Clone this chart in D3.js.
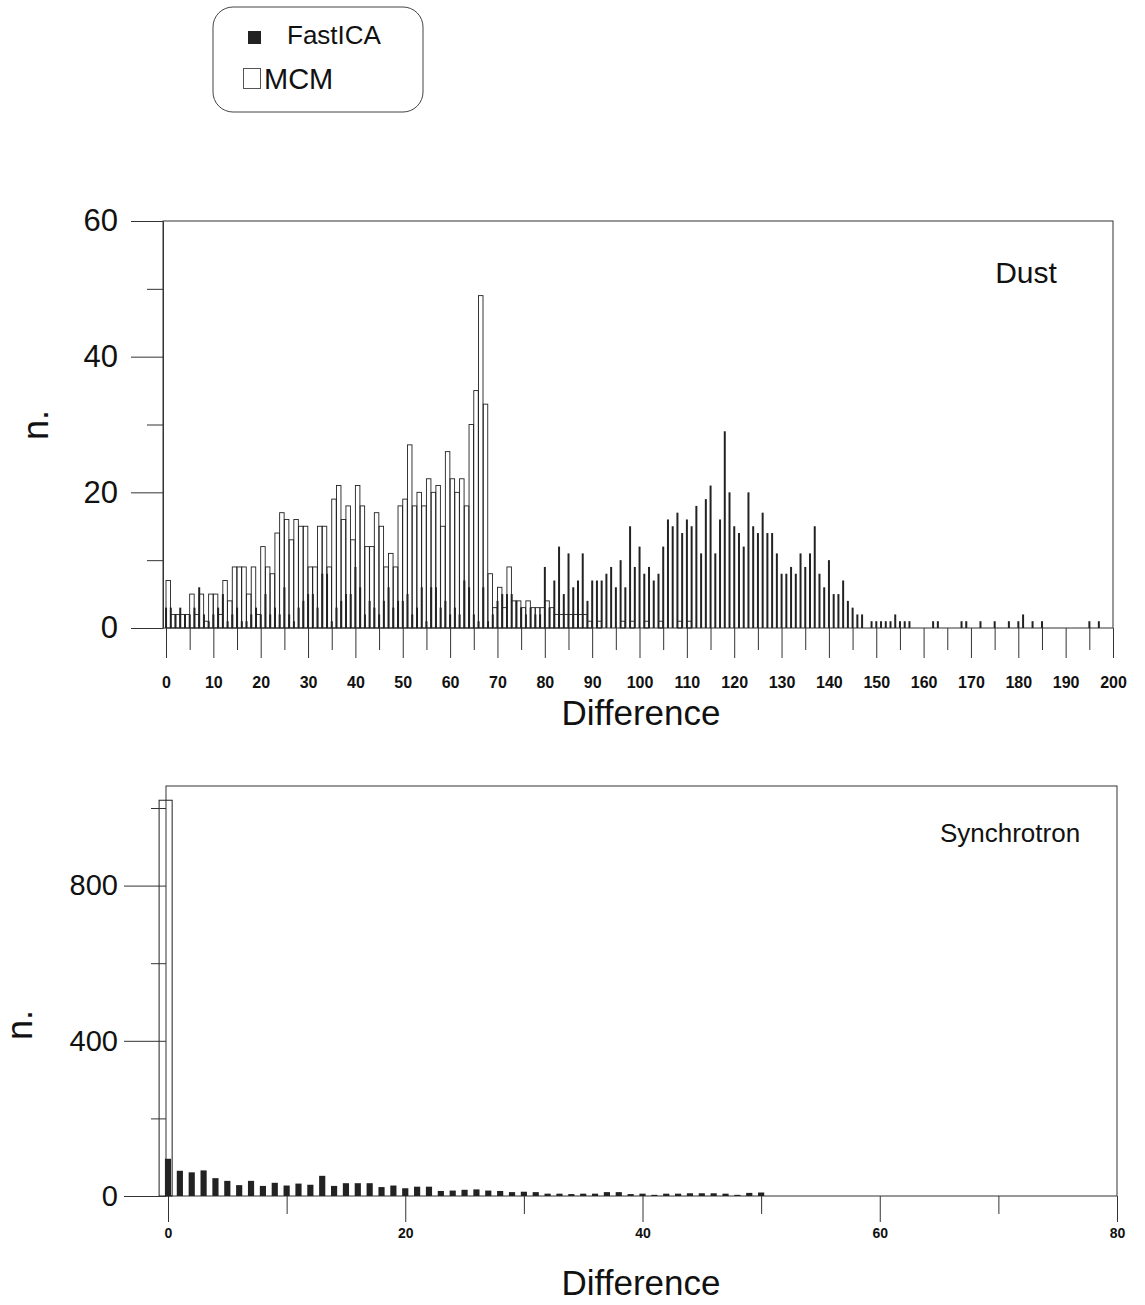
<!DOCTYPE html>
<html lang="en">
<head>
<meta charset="UTF-8">
<title>Dust / Synchrotron differences</title>
<script src="https://cdn.jsdelivr.net/npm/d3@7"></script>
<style>
  body { margin: 0; background: #fff; }
  text { font-family: "Liberation Sans", Arial, Helvetica, sans-serif; fill: #111; }
  .axis path, .axis line { stroke: #333; stroke-width: 1; }
  .axis text { fill: #111; }
</style>
</head>
<body>
<svg width="1145" height="1305"></svg>
<script>
// Dust panel: number of pixels per difference bin 0..199
var dustFastICA = [
  3,3,2,3,2,2,3,6,2,1,  2,3,5,1,2,3,1,1,2,3,  2,5,2,3,2,6,2,1,3,4,
  5,5,3,8,8,1,3,4,5,5,  9,6,2,4,3,2,4,6,3,4,  4,5,2,3,6,1,6,6,3,4,
  2,3,2,7,6,2,1,6,1,2,  4,5,5,5,4,3,2,3,2,2,  9,3,7,12,5,11,6,7,11,4,
  7,7,7,8,9,6,10,6,15,9, 12,8,9,7,8,12,16,15,17,14, 16,15,18,11,19,21,11,16,29,20,
  15,14,12,20,15,14,17,14,14,11, 8,8,9,8,11,9,11,15,8,6, 10,5,5,7,4,3,2,2,0,1,
  1,1,1,1,2,1,1,1,0,0,  0,0,1,1,0,0,0,0,1,1,  0,0,1,0,0,1,0,0,1,0,
  1,2,0,1,0,1,0,0,0,0,  0,0,0,0,0,1,0,1,0,0
];
var dustMCM = [
  7,2,2,2,2,5,2,5,1,5,  5,2,7,4,9,9,9,5,9,2,  12,9,8,14,17,16,13,16,15,15,
  9,9,15,15,9,19,21,16,18,13,  21,18,12,12,17,15,9,11,9,18,  19,27,18,20,18,22,20,21,15,26,
  22,20,22,18,30,35,49,33,8,3,  6,3,9,4,4,3,4,3,3,3,  4,3,2,2,2,2,2,2,2,1,
  0,1,0,0,0,0,1,0,1,0,  0,1,0,0,1,0,0,0,1,0,  1
];

// Synchrotron panel: difference bins 0..50
var syncFastICA = [
  96,65,61,66,46,39,28,39,26,34,  27,32,29,52,26,33,33,33,23,27,
  20,24,24,13,14,16,17,14,13,10,  11,10,6,6,5,6,6,10,10,5,
  6,3,6,6,7,7,7,6,3,8,  9
];
var syncMCM = [1020];

var dustYTicks = [0, 20, 40, 60], dustYMinor = [10, 30, 50];
var dustXTicks = [0,10,20,30,40,50,60,70,80,90,100,110,120,130,140,150,160,170,180,190,200];
var dustXMinor = [5,15,25,35,45,55,65,75,85,95,105,115,125,135,145,155,165,175,185,195];
var syncYTicks = [0, 400, 800], syncYMinor = [200, 600, 1000];
var syncXTicks = [0, 20, 40, 60, 80], syncXMinor = [10, 30, 50, 70];

var svg = d3.select("svg");
var ink = "#222";

function toBins(values) {
  return values.map(function (v, i) { return { k: i, v: v }; })
               .filter(function (d) { return d.v > 0; });
}

// ---------- Dust panel ----------
var xTop = d3.scaleLinear().domain([0, 200]).range([166, 1113]);
var yTop = d3.scaleLinear().domain([0, 60]).range([628, 221]);

svg.append("rect")
  .attr("x", 163).attr("y", yTop(60))
  .attr("width", xTop(200) - 163).attr("height", yTop(0) - yTop(60))
  .attr("fill", "none").attr("stroke", "#333");

// MCM hollow bars
svg.append("g").selectAll("rect")
  .data(toBins(dustMCM))
  .enter().append("rect")
  .attr("x", function (d) { return xTop(d.k); })
  .attr("y", function (d) { return yTop(d.v); })
  .attr("width", function (d) { return xTop(d.k + 0.95) - xTop(d.k); })
  .attr("height", function (d) { return yTop(0) - yTop(d.v); })
  .attr("fill", "none").attr("stroke", ink).attr("stroke-width", 0.9);

// FastICA filled bars
svg.append("g").selectAll("rect")
  .data(toBins(dustFastICA))
  .enter().append("rect")
  .attr("x", function (d) { return xTop(d.k - 0.2); })
  .attr("y", function (d) { return yTop(d.v); })
  .attr("width", function (d) { return xTop(d.k + 0.22) - xTop(d.k - 0.2); })
  .attr("height", function (d) { return yTop(0) - yTop(d.v); })
  .attr("fill", ink);

// y axis
svg.append("g").attr("class", "axis").attr("transform", "translate(163,0)")
  .call(d3.axisLeft(yTop).tickValues(dustYTicks).tickSize(32).tickSizeOuter(0).tickPadding(13))
  .call(function (g) { g.selectAll("text").style("font-size", "31px"); });
svg.append("g").attr("class", "axis").attr("transform", "translate(163,0)")
  .call(d3.axisLeft(yTop).tickValues(dustYMinor).tickSize(16).tickSizeOuter(0).tickFormat(""))
  .call(function (g) { g.select(".domain").remove(); });

// x axis
svg.append("g").attr("class", "axis").attr("transform", "translate(0," + yTop(0) + ")")
  .call(d3.axisBottom(xTop).tickValues(dustXTicks).tickSize(30).tickSizeOuter(0).tickPadding(19))
  .call(function (g) {
    g.select(".domain").remove();
    g.selectAll("text").style("font-size", "16px").style("font-weight", "bold");
  });
svg.append("g").attr("class", "axis").attr("transform", "translate(0," + yTop(0) + ")")
  .call(d3.axisBottom(xTop).tickValues(dustXMinor).tickSize(22).tickSizeOuter(0).tickFormat(""))
  .call(function (g) { g.select(".domain").remove(); });

svg.append("text").attr("x", 641).attr("y", 725).attr("text-anchor", "middle")
  .style("font-size", "35px").text("Difference");
svg.append("text").attr("transform", "translate(48,425) rotate(-90)").attr("text-anchor", "middle")
  .style("font-size", "36px").text("n.");
svg.append("text").attr("x", 1026).attr("y", 283).attr("text-anchor", "middle")
  .style("font-size", "30px").text("Dust");

// ---------- Synchrotron panel ----------
var xBot = d3.scaleLinear().domain([0, 80]).range([168, 1117]);
var yBot = d3.scaleLinear().domain([0, 1000]).range([1196, 808]);
var botTop = 786;

svg.append("rect")
  .attr("x", 166).attr("y", botTop)
  .attr("width", xBot(80) - 166).attr("height", yBot(0) - botTop)
  .attr("fill", "none").attr("stroke", "#333");

svg.append("g").selectAll("rect")
  .data(toBins(syncMCM))
  .enter().append("rect")
  .attr("x", function (d) { return xBot(d.k - 0.75); })
  .attr("y", function (d) { return yBot(d.v); })
  .attr("width", function (d) { return xBot(d.k + 0.35) - xBot(d.k - 0.75); })
  .attr("height", function (d) { return yBot(0) - yBot(d.v); })
  .attr("fill", "none").attr("stroke", ink).attr("stroke-width", 1);

svg.append("g").selectAll("rect")
  .data(toBins(syncFastICA))
  .enter().append("rect")
  .attr("x", function (d) { return xBot(d.k - 0.26); })
  .attr("y", function (d) { return yBot(d.v); })
  .attr("width", function (d) { return xBot(d.k + 0.26) - xBot(d.k - 0.26); })
  .attr("height", function (d) { return yBot(0) - yBot(d.v); })
  .attr("fill", ink);

svg.append("g").attr("class", "axis").attr("transform", "translate(166,0)")
  .call(d3.axisLeft(yBot).tickValues(syncYTicks).tickSize(42).tickSizeOuter(0).tickPadding(6))
  .call(function (g) {
    g.select(".domain").remove();
    g.selectAll("text").style("font-size", "29px");
  });
svg.append("g").attr("class", "axis").attr("transform", "translate(166,0)")
  .call(d3.axisLeft(yBot).tickValues(syncYMinor).tickSize(15).tickSizeOuter(0).tickFormat(""))
  .call(function (g) { g.select(".domain").remove(); });

svg.append("g").attr("class", "axis").attr("transform", "translate(0," + yBot(0) + ")")
  .call(d3.axisBottom(xBot).tickValues(syncXTicks).tickSize(26).tickSizeOuter(0).tickPadding(6))
  .call(function (g) {
    g.select(".domain").remove();
    g.selectAll("text").style("font-size", "14px").style("font-weight", "bold");
  });
svg.append("g").attr("class", "axis").attr("transform", "translate(0," + yBot(0) + ")")
  .call(d3.axisBottom(xBot).tickValues(syncXMinor).tickSize(18).tickSizeOuter(0).tickFormat(""))
  .call(function (g) { g.select(".domain").remove(); });

svg.append("text").attr("x", 641).attr("y", 1295).attr("text-anchor", "middle")
  .style("font-size", "35px").text("Difference");
svg.append("text").attr("transform", "translate(32,1025) rotate(-90)").attr("text-anchor", "middle")
  .style("font-size", "36px").text("n.");
svg.append("text").attr("x", 1010).attr("y", 842).attr("text-anchor", "middle")
  .style("font-size", "26px").text("Synchrotron");

// ---------- Legend ----------
var legend = svg.append("g");
legend.append("rect").attr("x", 213).attr("y", 7).attr("width", 210).attr("height", 105)
  .attr("rx", 20).attr("fill", "none").attr("stroke", "#444");
legend.append("rect").attr("x", 248).attr("y", 31).attr("width", 13).attr("height", 13).attr("fill", ink);
legend.append("text").attr("x", 287).attr("y", 44).style("font-size", "26px").text("FastICA");
legend.append("rect").attr("x", 243.5).attr("y", 68.5).attr("width", 17).attr("height", 20)
  .attr("fill", "none").attr("stroke", "#555");
legend.append("text").attr("x", 264).attr("y", 89).style("font-size", "29px").text("MCM");
</script>
</body>
</html>
